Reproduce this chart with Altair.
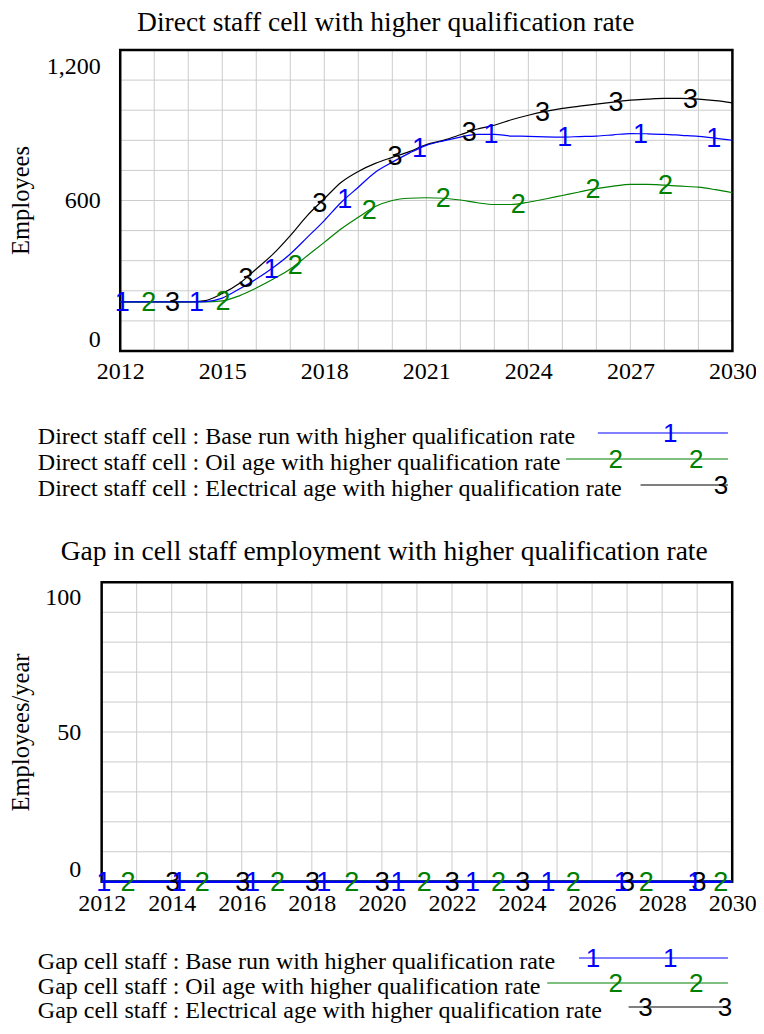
import altair as alt
import numpy as np
import pandas as pd

# ---------------- data ----------------
years_staff = [2012.0, 2012.5, 2013.0, 2013.5, 2014.0, 2014.5, 2015.0, 2015.5, 2016.0,
               2016.5, 2017.0, 2017.5, 2018.0, 2018.5, 2019.0, 2019.5, 2020.0, 2020.5,
               2021.0, 2021.5, 2022.0, 2022.5, 2023.0, 2023.5, 2024.0, 2024.5, 2025.0,
               2025.5, 2026.0, 2026.5, 2027.0, 2027.5, 2028.0, 2028.5, 2029.0, 2029.5, 2030.0]
staff_base = [196, 196, 196, 196, 196, 197, 211, 247, 287, 333, 387, 453, 520, 593, 653, 713,
              753, 789, 820, 838, 853, 864, 864, 857, 856, 854, 853, 855, 857, 862, 867, 866,
              864, 860, 856, 849, 840]
staff_oil = [196, 196, 196, 196, 196, 196, 200, 220, 251, 287, 327, 380, 433, 487, 533, 576,
             600, 609, 611, 609, 602, 591, 584, 584, 593, 606, 620, 634, 647, 657, 664, 664,
             661, 657, 653, 643, 631]
staff_elec = [196, 196, 196, 196, 196, 201, 229, 269, 327, 387, 460, 540, 607, 673, 716, 748,
              772, 795, 823, 840, 862, 885, 900, 922, 940, 955, 967, 976, 984, 992, 1000, 1004,
              1007, 1007, 1004, 998, 989]

years_gap = [2012, 2013, 2014, 2015, 2016, 2017, 2018, 2019, 2020, 2021, 2022, 2023, 2024,
             2025, 2026, 2027, 2028, 2029, 2030]
gap_base = [0, 0, 0, 0, 0, 0, 0, 0, 0, 0, 0, 0, 0, 0, 0, 0, 0, 0, 0]
gap_oil = [0, 0, 0, 0, 0, 0, 0, 0, 0, 0, 0, 0, 0, 0, 0, 0, 0, 0, 0]
gap_elec = [0, 0, 0, 0, 0, 0, 0, 0, 0, 0, 0, 0, 0, 0, 0, 0, 0, 0, 0]

# where the run numbers are written on each curve (years)
staff_mark_base = [2012.06, 2014.24, 2016.44, 2018.6, 2020.8, 2022.9, 2025.07, 2027.3, 2029.45]
staff_mark_oil = [2012.84, 2015.02, 2017.15, 2019.32, 2021.5, 2023.7, 2025.9, 2028.03]
staff_mark_elec = [2013.54, 2015.7, 2017.87, 2020.08, 2022.26, 2024.42, 2026.58, 2028.77]
gap_mark_base = [2012.06, 2014.21, 2016.31, 2018.34, 2020.46, 2022.59, 2024.74, 2026.83, 2028.93]
gap_mark_oil = [2012.75, 2014.87, 2017.02, 2019.14, 2021.21, 2023.33, 2025.46, 2027.55, 2029.67]
gap_mark_elec = [2014.03, 2016.03, 2018.02, 2020.01, 2022.01, 2024.02, 2027.01, 2029.05]

staff_x_ticks = [2012, 2015, 2018, 2021, 2024, 2027, 2030]
staff_y_ticks = [0, 600, 1200]
staff_x_grid = [2012, 2013, 2014, 2015, 2016, 2017, 2018, 2019, 2020, 2021, 2022, 2023, 2024,
                2025, 2026, 2027, 2028, 2029, 2030]
staff_y_grid = [0, 120, 240, 360, 480, 600, 720, 840, 960, 1080, 1200]
gap_x_ticks = [2012, 2014, 2016, 2018, 2020, 2022, 2024, 2026, 2028, 2030]
gap_y_ticks = [0, 50, 100]
gap_x_grid = staff_x_grid
gap_y_grid = [0, 10, 20, 30, 40, 50, 60, 70, 80, 90, 100]

staff_title = "Direct staff cell with higher qualification rate"
gap_title = "Gap in cell staff employment with higher qualification rate"
staff_legend = ["Direct staff cell : Base run with higher qualification rate",
                "Direct staff cell : Oil age with higher qualification rate",
                "Direct staff cell : Electrical age with higher qualification rate"]
gap_legend = ["Gap cell staff : Base run with higher qualification rate",
              "Gap cell staff : Oil age with higher qualification rate",
              "Gap cell staff : Electrical age with higher qualification rate"]

# ---------------- styling / geometry ----------------
SERIF = "Liberation Serif"
SANS = "Liberation Sans"
BLUE, GREEN, BLACK = "#0000ff", "#008000", "#000000"
GRID = "#cccccc"
W, H = 748, 1018          # page 764 x 1034 minus the 8px body margins


def PX(a):
    """page x of the reference -> view x (slight squeeze so the right labels fit)."""
    return 10 + (a - 12) * 0.993 - 8


def PY(a):
    """page y of the reference -> view y."""
    return a - 8


ONE = pd.DataFrame({"k": [0]})


def panel(years, series, marks, xdom, ydom, xr_ref, yr_ref, xgrid, ygrid, xticks, yticks,
          ytitle, ytitle_y_ref, xlabpad, ylabpad, top_lab_shift, line_w):
    xr = [PX(xr_ref[0]), PX(xr_ref[1])]
    yr = [PY(yr_ref[0]), PY(yr_ref[1])]
    xs = alt.Scale(domain=xdom, range=xr, nice=False, zero=False)
    ys = alt.Scale(domain=ydom, range=yr, nice=False, zero=False)
    layers = []
    # vertical grid lines + x axis
    layers.append(
        alt.Chart(pd.DataFrame({"g": xgrid})).mark_rule(color=GRID, strokeWidth=1).encode(
            x=alt.X("g:Q", scale=xs, axis=alt.Axis(
                values=xticks, format="d", orient="bottom", offset=yr[0] - H,
                grid=False, ticks=False, domain=False, title=None,
                labelFont=SERIF, labelFontSize=24, labelColor="black",
                labelPadding=xlabpad, labelFlush=False, labelOverlap=False)),
            y=alt.YDatum(ydom[0], scale=ys, axis=None),
            y2=alt.Y2Datum(ydom[1]),
        ))
    # horizontal grid lines + y axis
    layers.append(
        alt.Chart(pd.DataFrame({"g": ygrid})).mark_rule(color=GRID, strokeWidth=1).encode(
            y=alt.Y("g:Q", scale=ys, axis=alt.Axis(
                values=yticks, format=",.0f", orient="left", offset=-xr[0],
                grid=False, ticks=False, domain=False,
                labelFont=SERIF, labelFontSize=24, labelColor="black",
                labelPadding=ylabpad, labelFlush=True, labelOverlap=False,
                labelOffset={"condition": {"test": "datum.value == %s" % yticks[-1],
                                           "value": top_lab_shift}, "value": 0},
                title=ytitle, titleFont=SERIF, titleFontSize=24.5,
                titleFontWeight="normal", titleColor="black", titleAngle=270,
                titleAlign="center", titleBaseline="alphabetic",
                titleX=(28.4 - 8) - xr[0], titleY=PY(ytitle_y_ref))),
            x=alt.XDatum(xdom[0], scale=xs, axis=None),
            x2=alt.X2Datum(xdom[1]),
        ))
    # frame
    layers.append(
        alt.Chart(ONE).mark_rect(fillOpacity=0, stroke="black", strokeWidth=2.5).encode(
            x=alt.XDatum(xdom[0], scale=xs, axis=None), x2=alt.X2Datum(xdom[1]),
            y=alt.YDatum(ydom[0], scale=ys, axis=None), y2=alt.Y2Datum(ydom[1]),
        ))
    # curves: electrical (3), oil (2), base (1) drawn last
    order = [(2, BLACK), (1, GREEN), (0, BLUE)]
    for idx, col in order:
        df = pd.DataFrame({"year": years, "value": series[idx]})
        layers.append(
            alt.Chart(df).mark_line(color=col, strokeWidth=line_w, interpolate="monotone").encode(
                x=alt.X("year:Q", scale=xs, axis=None),
                y=alt.Y("value:Q", scale=ys, axis=None),
            ))
    # run numbers written on the curves
    for idx, col in order:
        mk = marks[idx]
        df = pd.DataFrame({"year": mk,
                           "value": np.interp(mk, years, series[idx]),
                           "lab": [str(idx + 1)] * len(mk)})
        layers.append(
            alt.Chart(df).mark_text(font=SANS, fontSize=27, color=col, align="center",
                                    baseline="middle", dy=1).encode(
                x=alt.X("year:Q", scale=xs, axis=None),
                y=alt.Y("value:Q", scale=ys, axis=None),
                text="lab:N",
            ))
    return layers


staff_layers = panel(years_staff, [staff_base, staff_oil, staff_elec],
                     [staff_mark_base, staff_mark_oil, staff_mark_elec],
                     [2012, 2030], [0, 1200], [123, 739.5], [351, 50],
                     staff_x_grid, staff_y_grid, staff_x_ticks, staff_y_ticks,
                     "Employees", 200, 8, 20, 4, 1.2)
gap_layers = panel(years_gap, [gap_base, gap_oil, gap_elec],
                   [gap_mark_base, gap_mark_oil, gap_mark_elec],
                   [2012, 2030], [0, 100], [104.3, 739.3], [881.7, 582.3],
                   gap_x_grid, gap_y_grid, gap_x_ticks, gap_y_ticks,
                   "Employees/year", 732, 9.5, 21, 3.5, 2.6)


def text_at(txt, x_ref, y_ref, size, font=SERIF, color="black", align="left",
            baseline="alphabetic"):
    return alt.Chart(ONE).mark_text(text=txt, font=font, fontSize=size, color=color,
                                    align=align, baseline=baseline).encode(
        x=alt.value(PX(x_ref)), y=alt.value(PY(y_ref)))


def rule_at(x1, x2, y, color):
    return alt.Chart(ONE).mark_rule(color=color, strokeWidth=1.2).encode(
        x=alt.value(PX(x1)), x2=alt.value(PX(x2)), y=alt.value(PY(y)))


decor = []
decor.append(text_at(staff_title, 140, 31, 27.5))
decor.append(text_at(gap_title, 63, 560, 27.5))

# legend geometry: (row centre y, line start x, digit x positions)
staff_leg_geo = [(436, 604, [677]), (462, 572, [622, 703]), (488, 647, [728])]
gap_leg_geo = [(961, 585, [599, 677]), (986, 553, [622, 703]), (1010, 635, [652, 732])]
cols = [BLUE, GREEN, BLACK]
for labels, geo in [(staff_legend, staff_leg_geo), (gap_legend, gap_leg_geo)]:
    for i, (lab, (yc, xs0, dxs)) in enumerate(zip(labels, geo)):
        decor.append(text_at(lab, 40, yc + 8, 24))
        decor.append(rule_at(xs0, 735, yc - 3, cols[i]))
        for dxp in dxs:
            decor.append(text_at(str(i + 1), dxp, yc - 2, 26, font=SANS, color=cols[i],
                                 align="center", baseline="middle"))

chart = alt.layer(*staff_layers, *gap_layers, *decor).resolve_scale(
    x="independent", y="independent"
).properties(
    width=W, height=H, autosize=alt.AutoSizeParams(type="none"), padding=0
).configure_view(stroke=None)

chart.save("out.html", embed_options={"renderer": "svg", "actions": False})
